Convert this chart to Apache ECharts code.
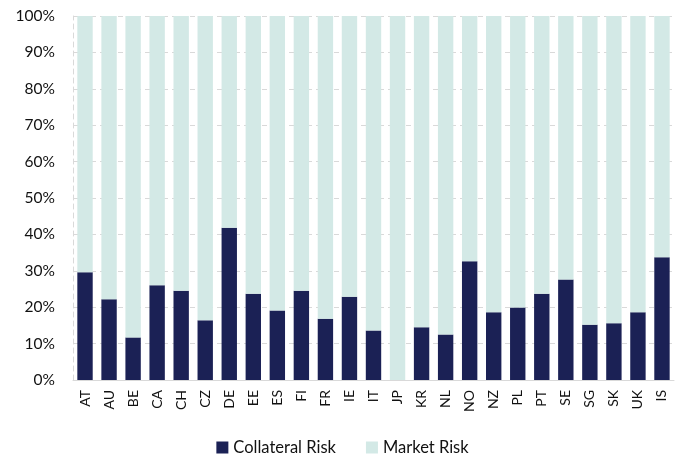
<!DOCTYPE html>
<html>
<head>
<meta charset="utf-8">
<script src="https://cdn.jsdelivr.net/npm/echarts@6/dist/echarts.min.js"></script>
<style>
  html, body { margin: 0; padding: 0; background: #fff; }
  #chart { width: 685px; height: 461px; }
</style>
</head>
<body>
<div id="chart"></div>
<script>
var countries = ['AT', 'AU', 'BE', 'CA', 'CH', 'CZ', 'DE', 'EE', 'ES', 'FI', 'FR', 'IE',
  'IT', 'JP', 'KR', 'NL', 'NO', 'NZ', 'PL', 'PT', 'SE', 'SG', 'SK', 'UK', 'IS'];
// shares in percent
var collateralRisk = [29.6, 22.2, 11.7, 26.0, 24.5, 16.4, 41.8, 23.7, 19.1, 24.5, 16.8, 22.9,
  13.6, 0, 14.5, 12.5, 32.6, 18.6, 19.9, 23.7, 27.6, 15.2, 15.6, 18.6, 33.7];
var marketRisk = [70.4, 77.8, 88.3, 74.0, 75.5, 83.6, 58.2, 76.3, 80.9, 75.5, 83.2, 77.1,
  86.4, 100, 85.5, 87.5, 67.4, 81.4, 80.1, 76.3, 72.4, 84.8, 84.4, 81.4, 66.3];
var yTicks = [0, 10, 20, 30, 40, 50, 60, 70, 80, 90, 100];

var myChart = echarts.init(document.getElementById('chart'));
var fontName = 'Lato';

var option = {
  animation: false,
  textStyle: { fontFamily: fontName },
  grid: { left: 73, right: 11, top: 16, bottom: 81 },
  legend: {
    bottom: 0,
    left: 'center',
    itemWidth: 12,
    itemHeight: 12,
    itemGap: 30,
    icon: 'rect',
    textStyle: { fontSize: 16.5, color: '#111', fontFamily: fontName },
    data: ['Collateral Risk', 'Market Risk']
  },
  xAxis: {
    type: 'category',
    data: countries,
    axisTick: { show: false },
    axisLine: { lineStyle: { color: '#d9d9d9', width: 1 } },
    axisLabel: { rotate: 90, fontSize: 14, color: '#111', margin: 10, interval: 0 }
  },
  yAxis: {
    type: 'value',
    min: 0,
    max: 100,
    interval: 10,
    axisLine: { show: true, lineStyle: { color: '#d9d9d9', type: [5, 4] } },
    axisTick: { show: false },
    axisLabel: {
      fontSize: 15.5, color: '#111', margin: 18,
      formatter: function (v) { return yTicks.indexOf(v) >= 0 ? v + '%' : ''; }
    },
    splitLine: { lineStyle: { color: '#d9d9d9', type: [5, 4] } }
  },
  series: [
    {
      name: 'Collateral Risk',
      type: 'bar',
      stack: 'total',
      barWidth: '64%',
      itemStyle: { color: '#1b2155' },
      data: collateralRisk
    },
    {
      name: 'Market Risk',
      type: 'bar',
      stack: 'total',
      barWidth: '64%',
      itemStyle: { color: '#d3e9e6' },
      data: marketRisk
    }
  ]
};

option && myChart.setOption(option);
</script>
</body>
</html>
